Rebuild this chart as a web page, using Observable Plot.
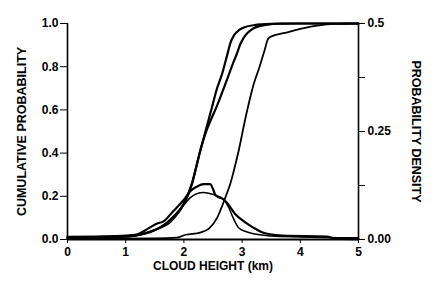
<!DOCTYPE html>
<html>
<head>
<meta charset="utf-8">
<script src="https://cdn.jsdelivr.net/npm/d3@7"></script>
<script src="https://cdn.jsdelivr.net/npm/@observablehq/plot@0.6"></script>
<style>
  html, body { margin: 0; padding: 0; background: white; }
</style>
</head>
<body>
<div id="chart"></div>
<script>
// ---- Data ----
// Cumulative probability curves (left axis)
const heightA = [0, 0.5, 1.0, 1.2, 1.42, 1.65, 1.82, 2.0, 2.14, 2.28, 2.37, 2.48, 2.57, 2.66, 2.74, 2.80, 2.86, 2.95, 3.03, 3.2, 3.5, 4.0, 5.0];
const cumA    = [0.008, 0.01, 0.015, 0.02, 0.035, 0.065, 0.105, 0.165, 0.26, 0.41, 0.5, 0.61, 0.7, 0.77, 0.85, 0.91, 0.945, 0.97, 0.982, 0.992, 0.998, 1.0, 1.0];

const heightB = [0, 0.5, 1.0, 1.2, 1.42, 1.65, 1.82, 2.0, 2.14, 2.28, 2.37, 2.45, 2.57, 2.74, 2.85, 2.91, 2.97, 3.03, 3.1, 3.2, 3.43, 3.7, 5.0];
const cumB    = [0.008, 0.01, 0.015, 0.02, 0.035, 0.065, 0.105, 0.165, 0.26, 0.41, 0.49, 0.545, 0.62, 0.74, 0.82, 0.86, 0.905, 0.935, 0.958, 0.978, 0.995, 1.0, 1.0];

const heightC = [0, 1.5, 1.88, 2.03, 2.28, 2.43, 2.57, 2.65, 2.72, 2.80, 2.85, 2.94, 3.06, 3.2, 3.3, 3.38, 3.45, 3.55, 3.71, 4.0, 4.29, 4.6, 5.0];
const cumC    = [0.003, 0.005, 0.009, 0.022, 0.032, 0.05, 0.10, 0.15, 0.2, 0.26, 0.31, 0.41, 0.565, 0.72, 0.8, 0.87, 0.93, 0.945, 0.955, 0.975, 0.99, 0.998, 1.0];

// Probability density curves (right axis)
const heightP  = [0, 0.5, 1.0, 1.2, 1.37, 1.54, 1.65, 1.82, 2.0, 2.11, 2.22, 2.34, 2.45, 2.5, 2.54, 2.6, 2.68, 2.74, 2.88, 3.03, 3.2, 3.34, 3.48, 3.7, 4.45, 4.6, 5.0];
const densityP = [0.006, 0.007, 0.009, 0.012, 0.024, 0.037, 0.042, 0.066, 0.092, 0.112, 0.122, 0.128, 0.128, 0.117, 0.103, 0.098, 0.093, 0.085, 0.059, 0.042, 0.027, 0.017, 0.012, 0.009, 0.007, 0.002, 0.001];

const heightQ  = [0, 1.0, 1.2, 1.37, 1.54, 1.77, 1.9, 2.0, 2.11, 2.22, 2.34, 2.45, 2.57, 2.68, 2.77, 2.85, 2.94, 3.05, 3.14, 3.31, 3.5, 4.0, 5.0];
const densityQ = [0.004, 0.006, 0.009, 0.017, 0.024, 0.04, 0.06, 0.08, 0.097, 0.106, 0.109, 0.106, 0.101, 0.093, 0.074, 0.049, 0.027, 0.019, 0.015, 0.011, 0.008, 0.006, 0.004];

// Axis ticks and titles
const xTicks = [0, 1, 2, 3, 4, 5];
const leftTicks = [0, 0.2, 0.4, 0.6, 0.8, 1.0];
const rightTickValues = [0, 0.125, 0.25, 0.375, 0.5];
const rightTickLabels = ["0.00", "", "0.25", "", "0.5"];
const xTitle = "CLOUD HEIGHT (km)";
const leftTitle = "CUMULATIVE PROBABILITY";
const rightTitle = "PROBABILITY DENSITY";

const densityMax = 0.5; // right axis top

const toRows = (xs, ys) => xs.map((x, i) => ({x, y: ys[i]}));
const cdfA = toRows(heightA, cumA);
const cdfB = toRows(heightB, cumB);
const cdfC = toRows(heightC, cumC);
const pdfP = toRows(heightP, densityP);
const pdfQ = toRows(heightQ, densityQ);

const font = "'Liberation Sans', Arial, Helvetica, sans-serif";

const chart = Plot.plot({
  width: 441,
  height: 297,
  marginLeft: 67,
  marginRight: 83,
  marginTop: 23,
  marginBottom: 58,
  style: {fontFamily: font, fontSize: "12px", fontWeight: "bold", color: "black", background: "white"},
  x: {domain: [0, 5]},
  y: {domain: [0, 1]},
  marks: [
    Plot.axisX({ticks: xTicks, tickFormat: d => String(d), tickSize: 4, tickPadding: 4, label: xTitle, labelAnchor: "center", labelOffset: 30, labelArrow: false, fontSize: 12}),
    Plot.axisY({anchor: "left", ticks: leftTicks, tickFormat: d3.format(".1f"), tickSize: 7, tickPadding: 2, label: null}),
    Plot.axisY({anchor: "right", ticks: rightTickValues.map(v => v / densityMax), tickFormat: d => rightTickLabels[rightTickValues.findIndex(v => Math.abs(v / densityMax - d) < 1e-9)], tickSize: 6, tickPadding: 3, label: null}),
    Plot.text([leftTitle], {frameAnchor: "left", dx: -46, rotate: -90, text: d => d, fontSize: 12.5, fontWeight: "bold", textAnchor: "middle", lineAnchor: "middle"}),
    Plot.text([rightTitle], {frameAnchor: "right", dx: 57, rotate: 90, text: d => d, fontSize: 12.5, fontWeight: "bold", textAnchor: "middle", lineAnchor: "middle"}),
    Plot.ruleX([0, 5], {y1: 0, y2: 1, stroke: "black", strokeWidth: 1.6}),
    Plot.ruleY([0], {x1: 0, x2: 5, stroke: "black", strokeWidth: 1.8}),
    Plot.line(cdfA, {x: "x", y: "y", curve: "monotone-x", stroke: "black", strokeWidth: 2.2}),
    Plot.line(cdfB, {x: "x", y: "y", curve: "monotone-x", stroke: "black", strokeWidth: 2.2}),
    Plot.line(cdfC, {x: "x", y: "y", curve: "monotone-x", stroke: "black", strokeWidth: 1.8}),
    Plot.line(pdfP, {x: "x", y: d => d.y / densityMax, curve: "monotone-x", stroke: "black", strokeWidth: 2.2}),
    Plot.line(pdfQ, {x: "x", y: d => d.y / densityMax, curve: "monotone-x", stroke: "black", strokeWidth: 1.5})
  ]
});
document.getElementById("chart").appendChild(chart);
</script>
</body>
</html>
